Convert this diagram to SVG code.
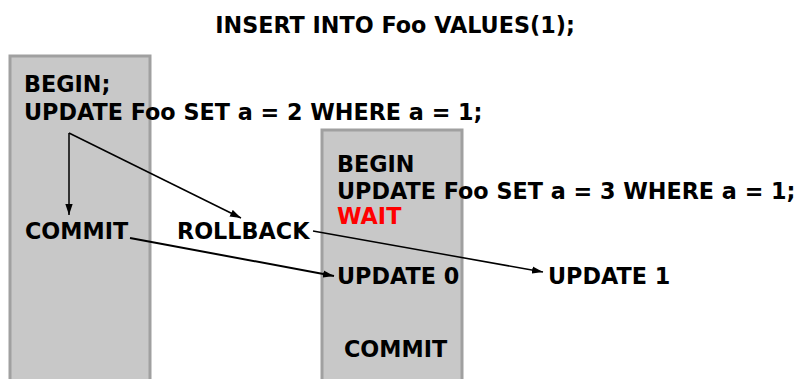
<svg xmlns="http://www.w3.org/2000/svg" width="798" height="379" viewBox="0 0 798 379">
<style>
text{font-family:"DejaVu Sans",sans-serif;font-weight:bold;font-size:22.3px;fill:#000}
.box{fill:#c8c8c8;stroke:#a0a0a0;stroke-width:3}
.c{fill:none;stroke:#000;stroke-width:1.5}
</style>
<defs>
<marker id="ah" viewBox="0 0 12 8" refX="12" refY="4" markerWidth="11" markerHeight="8" markerUnits="userSpaceOnUse" orient="auto"><path d="M0,0 L12,4 L0,8 z" fill="#000"/></marker>
</defs>
<g id="title"><text x="395" y="33" text-anchor="middle">INSERT INTO Foo VALUES(1);</text></g>
<g id="session1">
<rect class="box" x="10" y="56" width="140" height="330"/>
<text x="24" y="92">BEGIN;</text>
<text x="24" y="120">UPDATE Foo SET a = 2 WHERE a = 1;</text>
</g>
<g id="session2">
<rect class="box" x="322" y="130" width="140" height="260"/>
<text x="337" y="172">BEGIN</text>
<text x="337" y="199">UPDATE Foo SET a = 3 WHERE a = 1;</text>
<text x="337" y="224" style="fill:#ff0000">WAIT</text>
</g>
<g id="commit1"><text x="25" y="239">COMMIT</text></g>
<g id="rollback"><text x="177" y="239">ROLLBACK</text></g>
<g id="update0"><text x="337" y="284">UPDATE 0</text></g>
<g id="update1"><text x="548" y="284">UPDATE 1</text></g>
<g id="commit2"><text x="344" y="357">COMMIT</text></g>
<g id="connectors">
<path class="c" d="M69,133 L69,215" marker-end="url(#ah)"/>
<path class="c" d="M69,133 L241,218" marker-end="url(#ah)"/>
<path class="c" d="M130,238 L334,276" style="stroke-width:2" marker-end="url(#ah)"/>
<path class="c" d="M313,231 L543,272" marker-end="url(#ah)"/>
</g>
</svg>
